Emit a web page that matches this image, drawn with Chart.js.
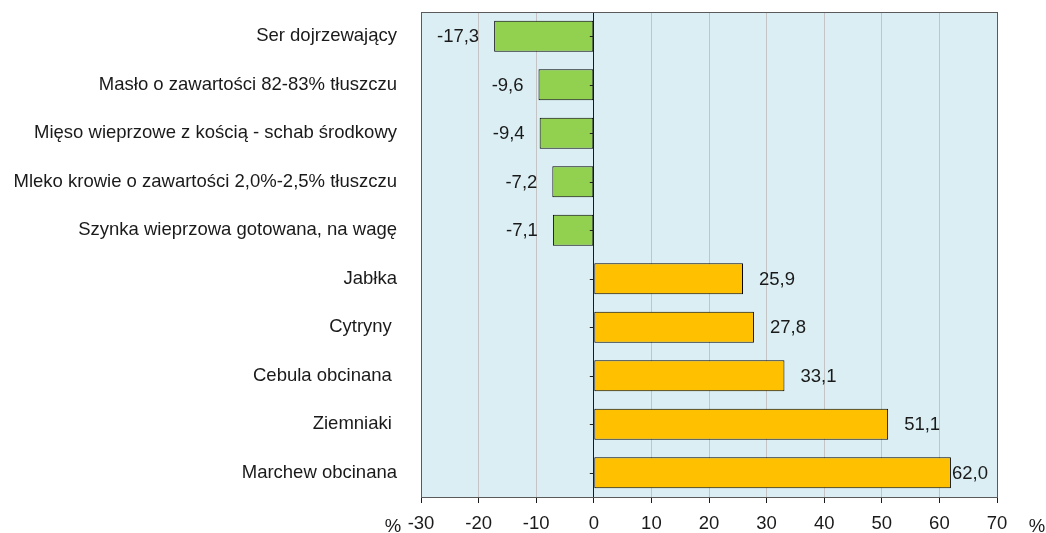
<!DOCTYPE html>
<html>
<head>
<meta charset="utf-8">
<script src="https://cdn.jsdelivr.net/npm/chart.js@4"></script>
<style>
  html, body { margin: 0; padding: 0; background: #fff; }
  #wrap { width: 1046px; height: 533px; }
</style>
</head>
<body>
<div id="wrap"><canvas id="bar"></canvas></div>
<script>
// data
const categories = [
    'Ser dojrzewający',
    'Masło o zawartości 82-83% tłuszczu',
    'Mięso wieprzowe z kością - schab środkowy',
    'Mleko krowie o zawartości 2,0%-2,5% tłuszczu',
    'Szynka wieprzowa gotowana, na wagę',
    'Jabłka',
    'Cytryny ',
    'Cebula obcinana ',
    'Ziemniaki ',
    'Marchew obcinana'
];
const changes = [-17.3, -9.6, -9.4, -7.2, -7.1, 25.9, 27.8, 33.1, 51.1, 62.0];
const xTicks = [-30, -20, -10, 0, 10, 20, 30, 40, 50, 60, 70];

const font = 'Liberation Sans, Arial, sans-serif';
const fontSize = 18.5;

function fmt(v) {
    return v.toFixed(1).replace('.', ',');
}

// plot background, frame, value labels and the "%" marks
const decor = {
    id: 'decor',
    beforeDraw(chart) {
        const { ctx, chartArea: a } = chart;
        ctx.save();
        ctx.fillStyle = '#daeef3';
        ctx.fillRect(a.left, a.top, a.right - a.left, a.bottom - a.top);
        ctx.restore();
    },
    afterDatasetsDraw(chart) {
        const { ctx, chartArea: a } = chart;
        const x = chart.scales.x;
        const y = chart.scales.y;
        const x0 = x.getPixelForValue(0);
        ctx.save();
        // small category ticks on the zero line
        ctx.strokeStyle = '#222';
        ctx.lineWidth = 1;
        categories.forEach((c, i) => {
            const py = Math.round(y.getPixelForValue(i)) + 0.5;
            ctx.beginPath();
            ctx.moveTo(x0 - 4, py);
            ctx.lineTo(x0, py);
            ctx.stroke();
        });
        ctx.strokeStyle = '#5a5a5a';
        ctx.strokeRect(Math.round(a.left) + 0.5, Math.round(a.top) + 0.5,
            Math.round(a.right - a.left), Math.round(a.bottom - a.top));

        ctx.font = fontSize + 'px ' + font;
        ctx.fillStyle = '#1a1a1a';
        ctx.textBaseline = 'middle';
        const meta = chart.getDatasetMeta(0);
        meta.data.forEach((bar, i) => {
            const v = changes[i];
            const txt = fmt(v);
            if (v < 0) {
                ctx.textAlign = 'right';
                ctx.fillText(txt, bar.x - 15, bar.y + 1);
            } else {
                ctx.textAlign = 'left';
                const w = ctx.measureText(txt).width;
                let px = bar.x + 16;
                if (px + w > a.right - 9) px = a.right - 9 - w;
                ctx.fillText(txt, px, bar.y + 1);
            }
        });
        ctx.textAlign = 'center';
        ctx.fillText('%', 393, 527);
        ctx.fillText('%', 1037, 527);
        ctx.restore();
    }
};

const ctx = document.getElementById('bar').getContext('2d');
const myChart = new Chart(ctx, {
    type: 'bar',
    data: {
        labels: categories,
        datasets: [{
            data: changes,
            backgroundColor: changes.map(v => v < 0 ? '#92d050' : '#ffc000'),
            borderColor: '#000000',
            borderWidth: 1,
            borderSkipped: false,
            categoryPercentage: 1,
            barPercentage: 0.64
        }]
    },
    options: {
        indexAxis: 'y',
        responsive: true,
        maintainAspectRatio: false,
        animation: false,
        devicePixelRatio: 1,
        layout: { padding: { top: 12, right: 49, bottom: 0, left: 0 } },
        plugins: {
            legend: { display: false },
            tooltip: { enabled: false }
        },
        scales: {
            x: {
                min: -30,
                max: 70,
                afterFit(scale) {
                    scale.height = 36;
                    scale.paddingLeft = 0;
                    scale.paddingRight = 0;
                },
                afterBuildTicks(scale) {
                    scale.ticks = xTicks.map(v => ({ value: v }));
                },
                grid: {
                    color(c) {
                        if (c.tick && c.tick.value === 0) return '#1a1a1a';
                        return '#c4c4c4';
                    },
                    tickColor: '#1a1a1a',
                    tickLength: 6,
                    drawTicks: true
                },
                border: { display: false },
                ticks: {
                    color: '#1a1a1a',
                    font: { family: font, size: fontSize },
                    padding: 10,
                    maxRotation: 0
                }
            },
            y: {
                afterFit(scale) {
                    scale.width = 421;
                    scale.paddingTop = 0;
                    scale.paddingBottom = 0;
                },
                grid: { display: false },
                border: { display: false },
                ticks: {
                    color: '#1a1a1a',
                    font: { family: font, size: fontSize },
                    padding: 16
                }
            }
        }
    },
    plugins: [decor]
});
</script>
</body>
</html>
